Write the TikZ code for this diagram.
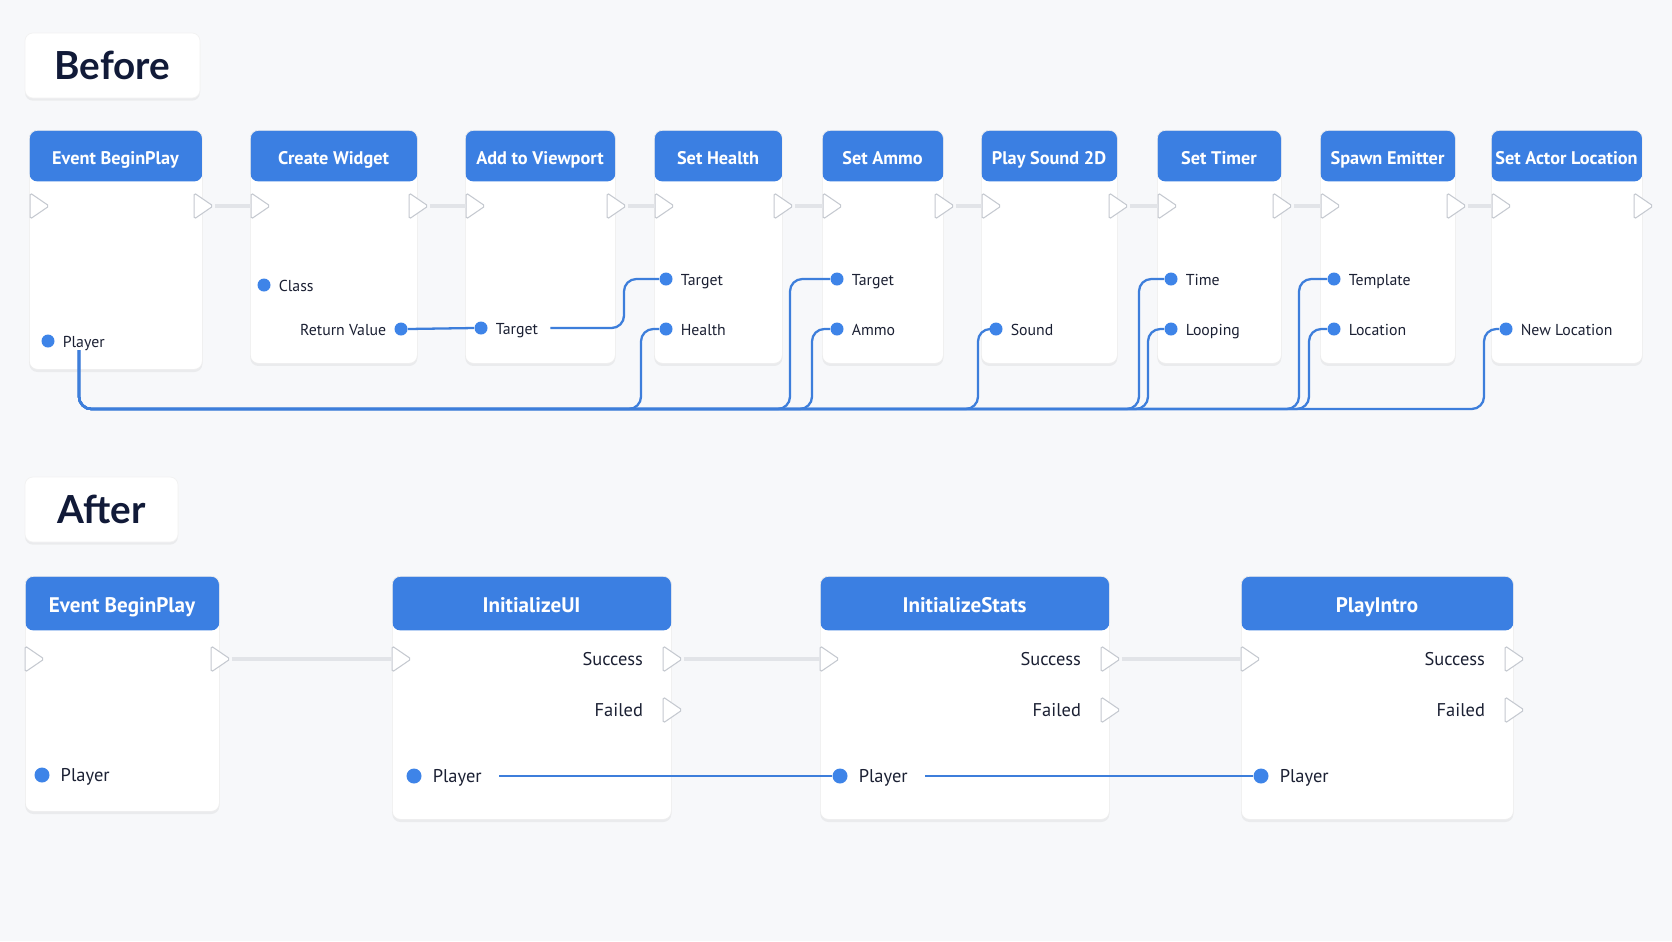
\documentclass[tikz,border=0pt]{standalone}
\usepackage{fontspec}
\setmainfont{PT Sans}
\newfontfamily\tagfont{Lato}
\usetikzlibrary{shapes.geometric,shadows,positioning}

\definecolor{bgcol}{HTML}{F7F8FA}
\definecolor{hdblue}{HTML}{3B7FE2}
\definecolor{wireblue}{HTML}{3D7EDB}
\definecolor{dotblue}{HTML}{3E84E8}
\definecolor{ink}{HTML}{1B2033}
\definecolor{titleink}{HTML}{111A38}
\definecolor{pinedge}{HTML}{C5C9D0}
\definecolor{execline}{HTML}{E2E4E8}
\newcommand{\pxl}{0.02cm}

\begin{document}
\begin{tikzpicture}[x=0.02cm,y=-0.02cm,
  card/.style n args={3}{draw=black!7, fill=white, rounded corners=4.5pt, inner sep=0pt,
    anchor=north west, minimum width=#1*\pxl, minimum height=#2*\pxl,
    drop shadow={opacity=0.10, shadow xshift=0pt, shadow yshift=-1.5pt},
    path picture={\fill[hdblue] (path picture bounding box.north west)
      rectangle ([yshift=-#3*\pxl]path picture bounding box.north east);}}]
  \tikzstyle{tagbox}=[draw=black!5, fill=white, rounded corners=4.5pt, text=titleink,
    font=\tagfont\bfseries\fontsize{22}{26}\selectfont,
    drop shadow={opacity=0.10, shadow xshift=0pt, shadow yshift=-1.5pt}]
  \tikzstyle{hdtext}=[text=white, anchor=base, font=\bfseries\fontsize{10.4}{13}\selectfont]
  \tikzstyle{hdtextb}=[text=white, anchor=base, font=\bfseries\fontsize{12}{14}\selectfont]
  \tikzstyle{pintext}=[text=ink, inner xsep=4.3pt, inner ysep=0pt, text height=1.4ex,
    text depth=0pt, font=\fontsize{9}{11}\selectfont]
  \tikzstyle{pintextb}=[text=ink, inner xsep=6pt, inner ysep=0pt, text height=1.4ex,
    text depth=0pt, font=\fontsize{10.5}{12}\selectfont]
  \tikzstyle{succtext}=[pintextb, inner xsep=11pt]
  \tikzstyle{dot}=[circle, fill=dotblue, inner sep=0pt, minimum size=13*\pxl]
  \tikzstyle{dotb}=[circle, fill=dotblue, inner sep=0pt, minimum size=15*\pxl]
  \tikzstyle{exec}=[isosceles triangle, isosceles triangle stretches, shape border rotate=0,
    draw=pinedge, fill=white, line width=0.6pt, rounded corners=1pt, inner sep=0pt,
    minimum width=26*\pxl, minimum height=19*\pxl]
  \tikzstyle{execwire}=[draw=execline, line width=2.8pt]
  \tikzstyle{wire}=[draw=wireblue, line width=1.3pt, rounded corners=7pt]

  \fill[bgcol] (0,0) rectangle (1672,941);
  \useasboundingbox (0,0) rectangle (1672,941);

  % before
  \node[tagbox, minimum width=175*\pxl, minimum height=65*\pxl] (before) at (112.5,65.5) {Before};

  \node[card={173}{239}{51}] (bp) at (29,130) {};
  \node[card={167}{233}{51}] (cw) at (250,130) {};
  \node[card={150}{233}{51}] (av) at (465,130) {};
  \node[card={128}{233}{51}] (sh) at (654,130) {};
  \node[card={121}{233}{51}] (sa) at (822,130) {};
  \node[card={136}{233}{51}] (ps) at (981,130) {};
  \node[card={124}{233}{51}] (st) at (1157,130) {};
  \node[card={135}{233}{51}] (se) at (1320,130) {};
  \node[card={151}{233}{51}] (sal) at (1491,130) {};

  \node[hdtext] (bp-t) at (115.5,164) {Event BeginPlay};
  \node[hdtext] (cw-t) at (333.5,164) {Create Widget};
  \node[hdtext] (av-t) at (540,164) {Add to Viewport};
  \node[hdtext] (sh-t) at (718,164) {Set Health};
  \node[hdtext] (sa-t) at (882.5,164) {Set Ammo};
  \node[hdtext] (ps-t) at (1049,164) {Play Sound 2D};
  \node[hdtext] (st-t) at (1219,164) {Set Timer};
  \node[hdtext] (se-t) at (1387.5,164) {Spawn Emitter};
  \node[hdtext] (sal-t) at (1566.5,164) {Set Actor Location};

  \node[exec] (bp-in) at (37,206) {};   \node[exec] (bp-out) at (201,206) {};
  \node[exec] (cw-in) at (258,206) {};  \node[exec] (cw-out) at (416,206) {};
  \node[exec] (av-in) at (473,206) {};  \node[exec] (av-out) at (614,206) {};
  \node[exec] (sh-in) at (662,206) {};  \node[exec] (sh-out) at (781,206) {};
  \node[exec] (sa-in) at (830,206) {};  \node[exec] (sa-out) at (942,206) {};
  \node[exec] (ps-in) at (989,206) {};  \node[exec] (ps-out) at (1116,206) {};
  \node[exec] (st-in) at (1165,206) {}; \node[exec] (st-out) at (1280,206) {};
  \node[exec] (se-in) at (1328,206) {}; \node[exec] (se-out) at (1454,206) {};
  \node[exec] (sal-in) at (1499,206) {}; \node[exec] (sal-out) at (1641,206) {};

  \foreach \a/\b in {bp/cw, cw/av, av/sh, sh/sa, sa/ps, ps/st, st/se, se/sal}
    \draw[execwire] (\a-out.east) -- (\b-in.west);

  \node[dot, label={[pintext, name=bp-pl]right:Player}] (bp-player) at (48,341) {};
  \node[dot, label={[pintext]right:Class}] (cw-class) at (264,285) {};
  \node[dot, label={[pintext]left:Return Value}] (cw-ret) at (401,329) {};
  \node[dot, label={[pintext, name=av-tl]right:Target}] (av-target) at (481,328) {};
  \node[dot, label={[pintext]right:Target}] (sh-target) at (666,279) {};
  \node[dot, label={[pintext]right:Health}] (sh-health) at (666,329) {};
  \node[dot, label={[pintext]right:Target}] (sa-target) at (837,279) {};
  \node[dot, label={[pintext]right:Ammo}] (sa-ammo) at (837,329) {};
  \node[dot, label={[pintext]right:Sound}] (ps-sound) at (996,329) {};
  \node[dot, label={[pintext]right:Time}] (st-time) at (1171,279) {};
  \node[dot, label={[pintext]right:Looping}] (st-loop) at (1171,329) {};
  \node[dot, label={[pintext]right:Template}] (se-tpl) at (1334,279) {};
  \node[dot, label={[pintext]right:Location}] (se-loc) at (1334,329) {};
  \node[dot, label={[pintext]right:New Location}] (sal-loc) at (1506,329) {};

  \draw[wire] (cw-ret.east) -- (av-target.west);
  \draw[wire] ([xshift=2.5pt]av-tl.east) -| (624,279) -- (sh-target.west);

  % player bus
  \coordinate (busstart) at (79,350);
  \foreach \bx/\pin in {641/sh-health, 790/sa-target, 812/sa-ammo, 978/ps-sound,
      1139/st-time, 1148/st-loop, 1299/se-tpl, 1309/se-loc, 1484/sal-loc}
    \draw[wire] (busstart) |- (\bx,409) |- (\pin.west);

  % after
  \node[tagbox, minimum width=153*\pxl, minimum height=65*\pxl] (after) at (101.5,509.5) {After};

  \node[card={194}{235}{54}] (eb) at (25,576) {};
  \node[card={279}{243}{54}] (iu) at (392,576) {};
  \node[card={289}{243}{54}] (is) at (820,576) {};
  \node[card={272}{243}{54}] (pi) at (1241,576) {};

  \node[hdtextb] (eb-t) at (122,612) {Event BeginPlay};
  \node[hdtextb] (iu-t) at (531.5,612) {InitializeUI};
  \node[hdtextb] (is-t) at (964.5,612) {InitializeStats};
  \node[hdtextb] (pi-t) at (1377,612) {PlayIntro};

  \node[exec] (eb-in) at (32,659) {};
  \node[exec] (eb-out) at (218,659) {};
  \node[exec] (iu-in) at (399,659) {};
  \node[exec, label={[succtext]left:Success}] (iu-ok) at (670,659) {};
  \node[exec, label={[succtext]left:Failed}] (iu-fail) at (670,710) {};
  \node[exec] (is-in) at (827,659) {};
  \node[exec, label={[succtext]left:Success}] (is-ok) at (1108,659) {};
  \node[exec, label={[succtext]left:Failed}] (is-fail) at (1108,710) {};
  \node[exec] (pi-in) at (1248,659) {};
  \node[exec, label={[succtext]left:Success}] (pi-ok) at (1512,659) {};
  \node[exec, label={[succtext]left:Failed}] (pi-fail) at (1512,710) {};

  \draw[execwire] (eb-out.east) -- (iu-in.west);
  \draw[execwire] (iu-ok.east) -- (is-in.west);
  \draw[execwire] (is-ok.east) -- (pi-in.west);

  \node[dotb, label={[pintextb]right:Player}] (eb-player) at (42,775) {};
  \node[dotb, label={[pintextb, name=iu-pl]right:Player}] (iu-player) at (414,776) {};
  \node[dotb, label={[pintextb, name=is-pl]right:Player}] (is-player) at (840,776) {};
  \node[dotb, label={[pintextb]right:Player}] (pi-player) at (1261,776) {};

  \draw[wire] ([xshift=3.7pt]iu-pl.east) -- (is-player.west);
  \draw[wire] ([xshift=3.7pt]is-pl.east) -- (pi-player.west);
\end{tikzpicture}
\end{document}
